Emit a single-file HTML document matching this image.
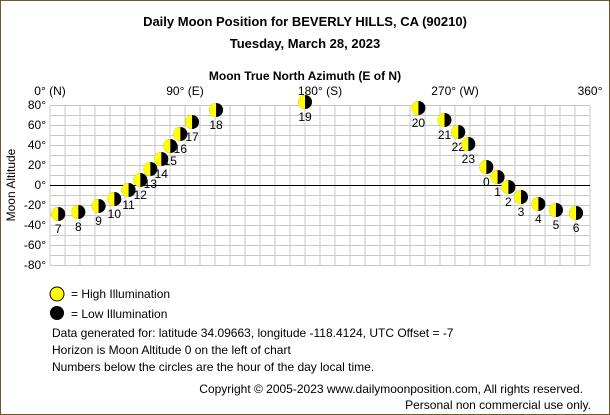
<!DOCTYPE html>
<html><head><meta charset="utf-8"><style>
html,body{margin:0;padding:0;background:#fff}
svg{display:block;font-family:"Liberation Sans",sans-serif}
</style></head><body>
<svg id="chart" width="610" height="415" viewBox="0 0 610 415">
<rect x="0.5" y="0.5" width="609" height="414" fill="#fff" stroke="#6b5a30"/>
<text x="305" y="26" text-anchor="middle" font-size="13" font-weight="bold">Daily Moon Position for BEVERLY HILLS, CA (90210)</text>
<text x="305" y="48" text-anchor="middle" font-size="13" font-weight="bold">Tuesday, March 28, 2023</text>
<text x="305" y="80" text-anchor="middle" font-size="12" font-weight="bold">Moon True North Azimuth (E of N)</text>
<text x="0" y="0" transform="translate(15,185) rotate(-90)" text-anchor="middle" font-size="12">Moon Altitude</text>
<g id="grid"></g>
<g id="ticks"></g>
<g id="labels"></g>
<g id="moons"></g>
<g>
<g><circle cx="57" cy="294" r="7" fill="#ffff00" stroke="#000" stroke-width="1"/><text x="71" y="298" font-size="12">= High Illumination</text></g>
<g><circle cx="57" cy="313" r="7" fill="#000"/><text x="71" y="318" font-size="12">= Low Illumination</text></g>
</g>
<g font-size="12">
<text x="52" y="337">Data generated for: latitude 34.09663, longitude -118.4124, UTC Offset = -7</text>
<text x="52" y="354">Horizon is Moon Altitude 0 on the left of chart</text>
<text x="52" y="371">Numbers below the circles are the hour of the day local time.</text>
<text x="583" y="393" text-anchor="end">Copyright © 2005-2023 www.dailymoonposition.com, All rights reserved.</text>
<text x="591" y="409" text-anchor="end">Personal non commercial use only.</text>
</g>
</svg>
<script>
const hours=[7,8,9,10,11,12,13,14,15,16,17,18,19,20,21,22,23,0,1,2,3,4,5,6];
const azimuths=[5.5,18.9,32.4,42.9,52.4,60.2,66.9,74.2,80.2,86.9,94.7,110.7,170,245.6,263,272.2,278.9,290.9,298.4,305.6,314,325.6,337.3,350.7];
const altitudes=[-29,-27,-21,-14,-5,5,16,26,39,51,63,75,83,77,65,53,41,18,8,-2,-12,-19,-25,-28];
const xTicks=[0,90,180,270,360];
const xTickLabels=["0° (N)","90° (E)","180° (S)","270° (W)","360°"];
const yTicks=[80,60,40,20,0,-20,-40,-60,-80];
const NS="http://www.w3.org/2000/svg";
const X=a=>50+a*1.5, Y=v=>185-v;
function mk(t,attrs,parent){const e=document.createElementNS(NS,t);for(const k in attrs)e.setAttribute(k,attrs[k]);parent.appendChild(e);return e;}
const grid=document.getElementById('grid'),ticks=document.getElementById('ticks'),moons=document.getElementById('moons'),labels=document.getElementById('labels');
for(let a=0;a<=360;a+=10){const l=mk('line',{x1:X(a),x2:X(a),y1:Y(80),y2:Y(-80),stroke:'#c8c8c8','stroke-width':1},grid);

}
for(let v=-80;v<=80;v+=10){const l=mk('line',{x1:X(0),x2:X(360),y1:Y(v)+0.5,y2:Y(v)+0.5,stroke:v===0?'#000':'#c8c8c8','stroke-width':1},grid);

}
xTicks.forEach((a,i)=>{const t=mk('text',{x:X(a),y:95,'text-anchor':'middle','font-size':12},ticks);t.textContent=xTickLabels[i];

});
yTicks.forEach(v=>{const t=mk('text',{x:46,y:Y(v)+4,'text-anchor':'end','font-size':12},ticks);t.textContent=v+'°';

});
hours.forEach((h,i)=>{const cx=X(azimuths[i]),cy=Y(altitudes[i]),r=7;
const t=mk('text',{x:cx,y:cy+19,'text-anchor':'middle','font-size':12},labels);t.textContent=h;


const g=mk('g',{},moons);


mk('circle',{cx:cx,cy:cy,r:r,fill:'#000'},g);
mk('path',{d:`M${cx},${cy-r} A${r},${r} 0 0 0 ${cx},${cy+r} Z`,fill:'#ffff00'},g);});
</script>
</body></html>
